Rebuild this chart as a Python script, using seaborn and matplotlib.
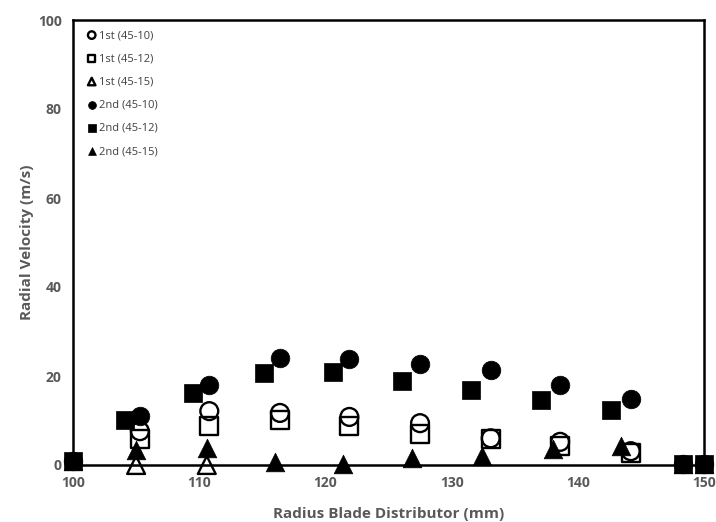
import matplotlib
matplotlib.use("Agg")
import matplotlib.pyplot as plt
import seaborn as sns
import pandas as pd

# Radial positions (mm) for each measurement set
x_first = [105.3, 110.8, 116.4, 121.9, 127.5, 133.1, 138.6, 144.2]
x_first_15 = [105.0, 110.6]
x_second_10 = [100.0, 105.3, 110.8, 116.4, 121.9, 127.5, 133.1, 138.6, 144.2, 148.3, 150.0]
x_second_12 = [100.0, 104.1, 109.5, 115.1, 120.6, 126.1, 131.5, 137.1, 142.6, 148.3, 150.0]
x_second_15 = [100.0, 105.0, 110.6, 116.0, 121.4, 126.9, 132.4, 138.0, 143.4, 148.3, 150.0]

# Radial velocity (m/s)
v_first_10 = [7.6, 12.1, 11.7, 10.8, 9.4, 6.0, 5.2, 3.1]
v_first_12 = [5.8, 8.8, 10.1, 8.7, 7.0, 5.8, 4.3, 2.7]
v_first_15 = [0.0, 0.0]
v_second_10 = [1.0, 11.0, 18.0, 24.0, 23.9, 22.7, 21.3, 18.0, 14.8, 0.3, 0.3]
v_second_12 = [1.0, 10.1, 16.2, 20.6, 20.8, 18.9, 16.8, 14.5, 12.3, 0.3, 0.3]
v_second_15 = [1.0, 3.4, 3.8, 0.7, 0.2, 1.5, 2.0, 3.5, 4.3, 0.3, 0.3]

x_ticks = [100, 110, 120, 130, 140, 150]
y_ticks = [0, 20, 40, 60, 80, 100]

series = [
    ("1st (45-10)", x_first, v_first_10, "o", False),
    ("1st (45-12)", x_first, v_first_12, "s", False),
    ("1st (45-15)", x_first_15, v_first_15, "^", False),
    ("2nd (45-10)", x_second_10, v_second_10, "o", True),
    ("2nd (45-12)", x_second_12, v_second_12, "s", True),
    ("2nd (45-15)", x_second_15, v_second_15, "^", True),
]

sns.set_style("white")
plt.rcParams["font.family"] = ["Open Sans", "DejaVu Sans"]
grey = "#595959"

fig = plt.figure(figsize=(7.16, 5.22), dpi=100)
ax = fig.add_axes([73 / 716, 1 - 465 / 522, (704 - 73) / 716, (465 - 20) / 522])

for label, xs, ys, marker, filled in series:
    df = pd.DataFrame({"r": xs, "v": ys})
    if filled:
        sns.scatterplot(data=df, x="r", y="v", ax=ax, marker=marker, s=180,
                        color="black", edgecolor="black", linewidth=0.5,
                        label=label, clip_on=False, zorder=3)
    else:
        sns.scatterplot(data=df, x="r", y="v", ax=ax, marker=marker, s=165,
                        facecolors="none", edgecolor="black", linewidth=1.7,
                        label=label, clip_on=False, zorder=3)

ax.set_xlim(100, 150)
ax.set_ylim(0, 100)
ax.set_xticks(x_ticks)
ax.set_yticks(y_ticks)
ax.tick_params(axis="both", direction="out", length=4, width=1, colors="black",
               labelcolor=grey, labelsize=10, pad=4)
for lbl in ax.get_xticklabels() + ax.get_yticklabels():
    lbl.set_fontweight("bold")

for side in ["left", "right", "top", "bottom"]:
    ax.spines[side].set_visible(True)
    ax.spines[side].set_color("black")
    ax.spines[side].set_linewidth(1.8)

ax.set_xlabel("Radius Blade Distributor (mm)", fontsize=11, fontweight="bold",
              color=grey, labelpad=12)
ax.set_ylabel("Radial Velocity (m/s)", fontsize=11, fontweight="bold",
              color=grey, labelpad=3)

leg = ax.legend(loc="upper left", frameon=False, fontsize=8, markerscale=0.42,
                handletextpad=0.15, labelspacing=1.1, borderaxespad=0.5,
                handlelength=1.0, bbox_to_anchor=(0.005, 1.0))
for t in leg.get_texts():
    t.set_color("#404040")

fig.savefig("out.png", dpi=100)
